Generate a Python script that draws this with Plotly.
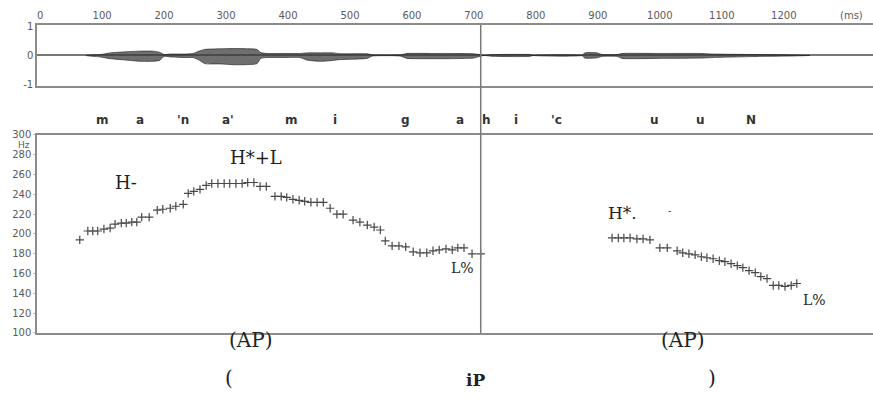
import plotly.graph_objects as go

# ---- waveform envelope (ms, relative amplitude) ----
wave_t = [74, 85, 97, 113, 140, 161, 182, 193, 200, 210,
          234, 247, 255, 266, 290, 315, 339, 350, 356, 366,
          395, 419, 431, 452, 473, 484, 528, 536, 581, 592,
          629, 661, 699, 710, 716, 731, 791, 795, 874, 879,
          899, 907, 931, 939, 1000, 1065, 1086, 1167, 1210, 1242]
wave_up = [0, 0.02, 0.03, 0.09, 0.13, 0.15, 0.15, 0.11, 0.03, 0.05,
           0.05, 0.07, 0.14, 0.21, 0.23, 0.24, 0.23, 0.21, 0.10, 0.07,
           0.07, 0.07, 0.09, 0.09, 0.09, 0.06, 0.06, 0.02, 0.02, 0.07,
           0.07, 0.07, 0.06, 0.03, 0, 0.03, 0.03, 0, 0, 0.09,
           0.09, 0.03, 0.03, 0.07, 0.07, 0.07, 0.05, 0.03, 0.02, 0]
wave_down = [0, 0.03, 0.05, 0.11, 0.16, 0.20, 0.20, 0.17, 0.03, 0.05,
             0.07, 0.07, 0.14, 0.28, 0.29, 0.32, 0.31, 0.28, 0.10, 0.07,
             0.07, 0.07, 0.16, 0.20, 0.17, 0.14, 0.10, 0.02, 0.02, 0.10,
             0.11, 0.11, 0.09, 0.03, 0, 0.03, 0.03, 0, 0, 0.09,
             0.08, 0.03, 0.03, 0.10, 0.10, 0.09, 0.07, 0.03, 0.02, 0]

# ---- F0 contour, first phrase (ms, Hz) ----
f0_t1 = [64, 77, 85, 93, 103, 113, 121, 131, 139, 148,
         156, 164, 176, 189, 198, 210, 219, 231, 239, 248,
         258, 268, 277, 287, 297, 306, 316, 326, 335, 345,
         355, 365, 379, 389, 398, 408, 418, 427, 437, 447,
         457, 468, 479, 489, 505, 516, 528, 539, 549, 557,
         568, 579, 590, 602, 613, 624, 634, 644, 655, 665,
         674, 684, 697, 711]
f0_hz1 = [194, 203, 203, 203, 205, 206, 210, 211, 211, 212,
          212, 217, 217, 224, 225, 226, 228, 230, 241, 243,
          245, 249, 251, 251, 251, 251, 251, 251, 252, 252,
          248, 248, 238, 238, 237, 235, 234, 233, 232, 232,
          232, 226, 220, 220, 214, 212, 209, 207, 204, 193,
          188, 188, 187, 182, 181, 181, 183, 184, 185, 184,
          186, 186, 180, 180]

# ---- F0 contour, second phrase (ms, Hz) ----
f0_t2 = [923, 933, 942, 952, 963, 973, 984, 1000, 1012, 1028,
         1037, 1047, 1057, 1067, 1076, 1086, 1096, 1105, 1115, 1125,
         1134, 1144, 1154, 1163, 1173, 1183, 1192, 1202, 1212, 1221]
f0_hz2 = [196, 196, 196, 196, 195, 195, 194, 186, 186, 183,
          181, 180, 179, 177, 176, 175, 173, 172, 170, 168,
          166, 163, 161, 157, 155, 148, 148, 147, 148, 150]

# ---- segment labels (ms) ----
seg_text = ["m", "a", "'n", "a'", "m", "i", "g", "a", "h", "i", "'c", "u", "u", "N"]
seg_t = [101, 161, 231, 303, 406, 476, 589, 678, 721, 768, 834, 991, 1066, 1147]

time_ticks = [0, 100, 200, 300, 400, 500, 600, 700, 800, 900, 1000, 1100, 1200]
hz_ticks = [100, 120, 140, 160, 180, 200, 220, 240, 260, 280, 300]
boundary_ms = 711

AXIS_GRAY = "#8c8c8c"
TICK_FONT = dict(family="DejaVu Sans", size=10, color="#5a5a5a")
SERIF = "DejaVu Serif"

fig = go.Figure()

# waveform as filled envelope
fig.add_trace(go.Scatter(
    x=wave_t + wave_t[::-1],
    y=wave_up + [-v for v in wave_down[::-1]],
    fill="toself", fillcolor="rgba(55,55,55,0.72)",
    line=dict(color="rgba(30,30,30,0.8)", width=0.8, shape="spline", smoothing=0.5),
    mode="lines", hoverinfo="skip", showlegend=False,
    xaxis="x", yaxis="y"))

pitch_marker = dict(symbol="cross-thin", size=6, line=dict(width=1.2, color="#484848"))
for tt, hh in ((f0_t1, f0_hz1), (f0_t2, f0_hz2)):
    fig.add_trace(go.Scatter(x=tt, y=hh, mode="markers", marker=pitch_marker,
                             showlegend=False, xaxis="x2", yaxis="y2"))

x_range = [-5, 1344]
fig.update_layout(
    width=873, height=407,
    margin=dict(l=37, r=0, t=25, b=74),
    paper_bgcolor="white", plot_bgcolor="white",
    xaxis=dict(domain=[0, 1], range=x_range, side="top", anchor="y",
               tickvals=time_ticks, tickfont=TICK_FONT, ticks="",
               showgrid=False, zeroline=False, showline=True, mirror=True,
               linecolor=AXIS_GRAY, linewidth=1.5),
    yaxis=dict(domain=[0.802, 1], range=[-1.05, 1.05], anchor="x",
               tickvals=[-1, 0, 1], ticktext=["-1", "0", "1"], tickfont=TICK_FONT,
               ticks="", showgrid=False, zeroline=True, zerolinecolor="#777777",
               zerolinewidth=1.5, showline=True, linecolor=AXIS_GRAY, linewidth=1.5),
    xaxis2=dict(domain=[0, 1], range=x_range, anchor="y2", matches="x",
                showticklabels=False, ticks="", showgrid=False, zeroline=False,
                showline=True, mirror=True, linecolor=AXIS_GRAY, linewidth=1.5),
    yaxis2=dict(domain=[0, 0.643], range=[100, 300], anchor="x2",
                tickvals=hz_ticks, tickfont=TICK_FONT, ticks="outside", ticklen=2,
                tickcolor="#bbbbbb", showgrid=False, zeroline=False,
                showline=True, linecolor=AXIS_GRAY, linewidth=1.5),
)

# phrase boundary
fig.add_shape(type="line", xref="x", yref="paper", x0=boundary_ms, x1=boundary_ms,
              y0=0, y1=1, line=dict(color="#7a7a7a", width=1.5))

ann = []
for s, t in zip(seg_text, seg_t):
    ann.append(dict(x=t, y=0.7208, xref="x", yref="paper", text=f"<b>{s}</b>",
                    showarrow=False, font=dict(family="DejaVu Sans", size=12, color="#333333")))

ann.append(dict(x=1310, y=1, xref="x", yref="paper", text="(ms)", showarrow=False,
                yanchor="bottom", yshift=2, font=TICK_FONT))
ann.append(dict(x=0, y=300, xref="paper", yref="y2", text="Hz", showarrow=False,
                xanchor="right", xshift=-5, yshift=-10,
                font=dict(family="DejaVu Sans", size=9, color="#5a5a5a")))

tone_labels = [
    ("H-", 139, 252, 18),
    ("H*+L", 348, 277, 18),
    ("L%", 681, 166, 14),
    ("H*.", 939, 221, 17),
    ("-", 1015, 224, 10),
    ("L%", 1250, 133, 14),
]
for txt, t, hz, sz in tone_labels:
    ann.append(dict(x=t, y=hz, xref="x", yref="y2", text=txt, showarrow=False,
                    font=dict(family=SERIF, size=sz, color="#222222")))

phrase_labels = [
    ("(AP)", 340, -0.068, 20),
    ("(AP)", 1037, -0.068, 20),
    ("(", 305, -0.19, 20),
    ("<b>iP</b>", 702, -0.19, 17),
    (")", 1084, -0.19, 20),
]
for txt, t, yp, sz in phrase_labels:
    ann.append(dict(x=t, y=yp, xref="x", yref="paper", text=txt, showarrow=False,
                    font=dict(family=SERIF, size=sz, color="#222222")))

fig.update_layout(annotations=ann)
fig.write_html("out.html")
